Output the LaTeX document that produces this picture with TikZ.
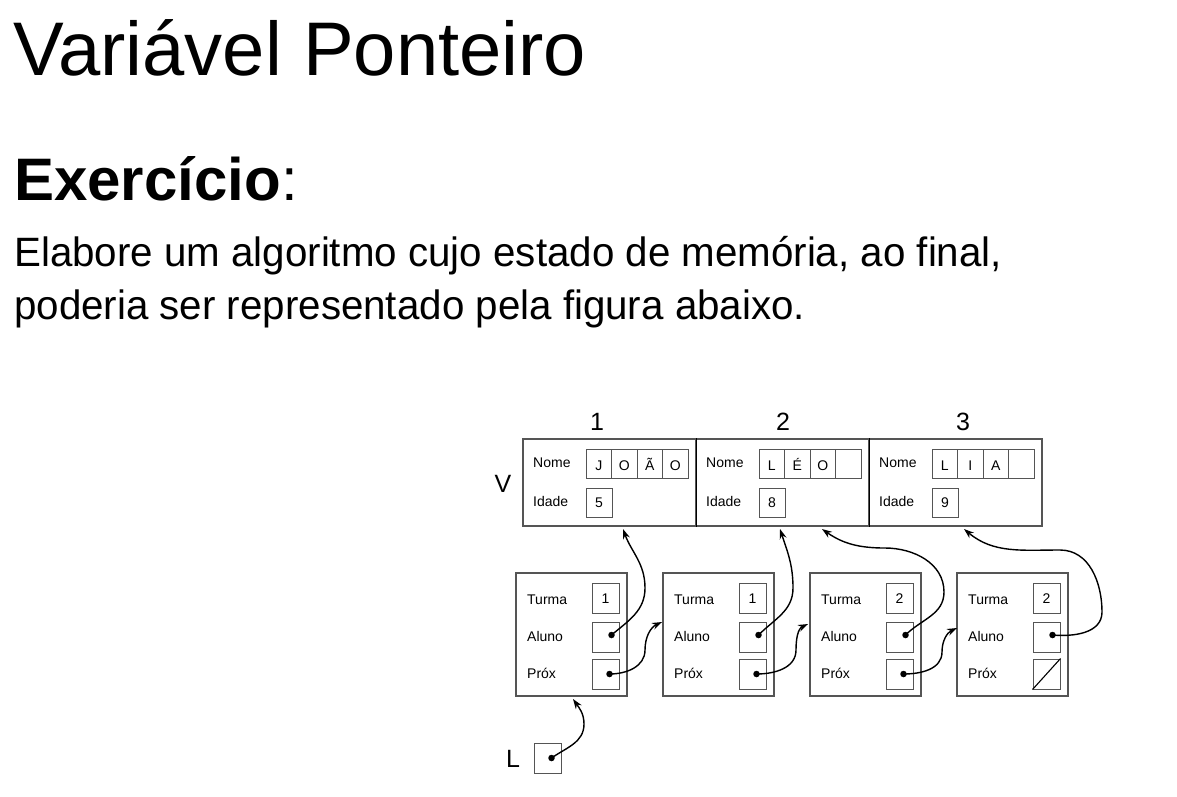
\documentclass[tikz,border=0pt]{standalone}
\usepackage{fontspec}
\setmainfont{Liberation Sans}
\usetikzlibrary{arrows.meta}
\definecolor{bx}{RGB}{85,85,85}
\begin{document}
\begin{tikzpicture}[x=1pt,y=-1pt,
  seg/.style={draw=bx,line width=1.1pt,minimum width=173pt,minimum height=87pt,inner sep=0},
  cellb/.style={draw=bx,line width=1pt,inner sep=0,text height=10pt,text depth=0pt,font=\fontsize{14}{14}\selectfont},
  lbl/.style={anchor=base west,inner sep=0,font=\fontsize{14}{14}\selectfont},
  big/.style={anchor=base,inner sep=0,font=\fontsize{25}{25}\selectfont},
  recbox/.style={draw=bx,line width=1.1pt,minimum width=111pt,minimum height=123pt,inner sep=0},
  dot/.style={circle,fill=black,inner sep=0,minimum size=6.5pt},
  ptr/.style={-{Stealth[length=10pt,width=7pt]},line width=1.4pt}]
\useasboundingbox (0,0) rectangle (1177,796);
% texts
\node[anchor=base west,inner sep=0,font=\fontsize{76}{76}\selectfont] (title) at (13,75) {Variável Ponteiro};
\node[anchor=base west,inner sep=0,font=\fontsize{60}{60}\selectfont] (ex) at (14,200) {\textbf{Exercício}:};
\node[anchor=base west,inner sep=0,font=\fontsize{41}{41}\selectfont] (l1) at (14,266) {\scalebox{0.983}[1]{Elabore um algoritmo cujo estado de memória, ao final,}};
\node[anchor=base west,inner sep=0,font=\fontsize{41}{41}\selectfont] (l2) at (14,319) {\scalebox{0.983}[1]{poderia ser representado pela figura abaixo.}};
% vector V
\foreach \k/\na/\nb/\nc/\nd/\ag/\lx in {1/J/O/Ã/O/5/597, 2/L/É/O//8/783, 3/L/I/A//9/963} {
  \pgfmathsetmacro\sx{523+173*(\k-1)}
  \node[seg] (v\k) at (\sx+86.5,482.5) {};
  \node[big] (num\k) at (\lx,430) {\k};
  \node[lbl] (nl\k) at (\sx+10,467) {Nome};
  \node[lbl] (il\k) at (\sx+10,506) {Idade};
  \node[cellb,text height=13pt,minimum width=25.5pt,minimum height=29pt] (c\k a) at (\sx+75.75,463.5) {\na};
  \node[cellb,text height=13pt,minimum width=25.5pt,minimum height=29pt] (c\k b) at (\sx+101.25,463.5) {\nb};
  \node[cellb,text height=13pt,minimum width=25.5pt,minimum height=29pt] (c\k c) at (\sx+126.75,463.5) {\nc};
  \node[cellb,text height=13pt,minimum width=25.5pt,minimum height=29pt] (c\k d) at (\sx+152.25,463.5) {\nd};
  \node[cellb,minimum width=26pt,minimum height=29pt] (ag\k) at (\sx+76,502.5) {\ag};
}
\draw[line width=1.1pt] (v1.north east) -- (v1.south east);
\draw[line width=1.1pt] (v2.north east) -- (v2.south east);
\node[big] (vlab) at (503,492) {V};
% records
\foreach \j/\tv in {1/1,2/1,3/2,4/2} {
  \pgfmathsetmacro\rx{516+147*(\j-1)}
  \node[recbox] (r\j) at (\rx+55.5,634.5) {};
  \node[lbl] (tl\j) at (\rx+11,604) {Turma};
  \node[lbl] (al\j) at (\rx+11,641) {Aluno};
  \node[lbl] (pl\j) at (\rx+11,678) {Próx};
  \node[cellb,minimum width=27pt,minimum height=30pt] (t\j) at (\rx+89.5,598) {\tv};
  \node[cellb,minimum width=27pt,minimum height=30pt] (a\j) at (\rx+89.5,637) {};
  \node[cellb,minimum width=27pt,minimum height=30pt] (p\j) at (\rx+89.5,674) {};
}
\foreach \j in {1,2,3,4} {
  \node[dot] (ad\j) at ([shift={(6pt,2pt)}]a\j.center) {};
}
\foreach \j in {1,2,3} {
  \node[dot] (pd\j) at ([xshift=4pt]p\j.center) {};
}
\draw[line width=1.1pt] (p4.south west) -- (p4.north east);
% L
\node[big] (llab) at (513,767) {L};
\node[cellb,minimum width=27pt,minimum height=30pt] (lb) at (547.5,758) {};
\node[dot] (ld) at ([xshift=4pt]lb.center) {};
% pointer targets
\coordinate (tg1) at (573,699);
\coordinate (tg2) at (623,529);
\coordinate (tg3) at (662,622);
\coordinate (tg4) at (780,529);
\coordinate (tg5) at (808,624);
\coordinate (tg6) at (822,529);
\coordinate (tg7) at (957,628);
\coordinate (tg8) at (964,529);
% arrows
\draw[ptr] (ld.center) to[out=35,in=-90] (584,724) to[out=90,in=-55] (tg1);
\draw[ptr] (ad1.center) to[out=40,in=-90] (645,588) to[out=90,in=-70] (tg2);
\draw[ptr] (pd1.center) to[out=0,in=-90] (645,650) to[out=90,in=205] (tg3);
\draw[ptr] (ad2.center) to[out=45,in=-90] (793,588) to[out=90,in=-72] (tg4);
\draw[ptr] (pd2.center) to[out=0,in=-90] (796,650) to[out=90,in=205] (tg5);
\draw[ptr] (ad3.center) to[out=45,in=-90] (944,592) to[out=90,in=0] (885,548) to[out=180,in=-35] (tg6);
\draw[ptr] (pd3.center) to[out=0,in=-90] (942,652) to[out=90,in=205] (tg7);
\draw[ptr] (ad4.center) to[out=-5,in=-90] (1102,612) to[out=90,in=0] (1060,550) to[out=180,in=-40] (tg8);
\end{tikzpicture}
\end{document}
